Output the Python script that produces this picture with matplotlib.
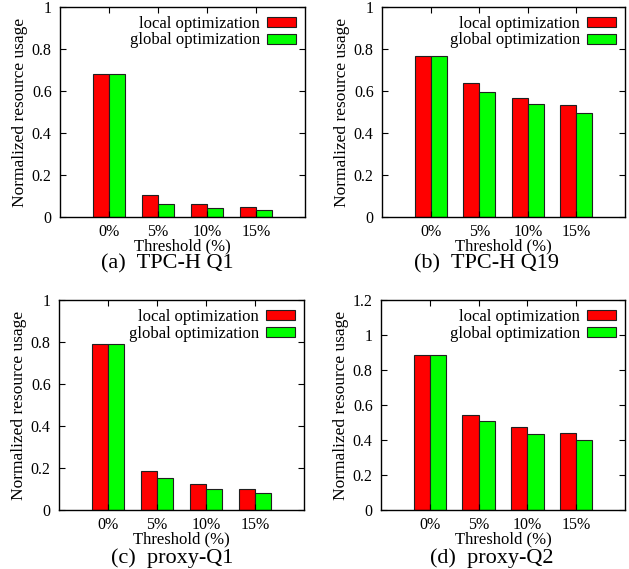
import numpy as np
import matplotlib.pyplot as plt

plt.rcParams['font.family'] = ['Liberation Serif', 'DejaVu Serif']

thresholds = ["0%", "5%", "10%", "15%"]

local_q1 = [0.68, 0.107, 0.062, 0.048]
global_q1 = [0.68, 0.062, 0.045, 0.032]

local_q19 = [0.765, 0.64, 0.565, 0.535]
global_q19 = [0.765, 0.593, 0.54, 0.495]

local_p1 = [0.79, 0.188, 0.122, 0.102]
global_p1 = [0.79, 0.154, 0.100, 0.083]

local_p2 = [0.885, 0.545, 0.472, 0.442]
global_p2 = [0.885, 0.511, 0.436, 0.399]

captions = ["(a)  TPC-H Q1", "(b)  TPC-H Q19", "(c)  proxy-Q1", "(d)  proxy-Q2"]

W, H = 629, 569


def box(left, right, top, bottom):
    return [left / W, (H - bottom) / H, (right - left) / W, (bottom - top) / H]


def draw_panel(fig, rect, local_vals, global_vals, ymax, yticks, ylabels):
    ax = fig.add_axes(rect)
    x = np.arange(len(thresholds))
    w = 0.33
    ax.bar(x - w / 2, local_vals, w, color="#ff0000", edgecolor="#202020",
           linewidth=0.8, label="local optimization")
    ax.bar(x + w / 2, global_vals, w, color="#00ff00", edgecolor="#202020",
           linewidth=0.8, label="global optimization")
    ax.set_xlim(-1, 4)
    ax.set_ylim(0, ymax)
    ax.set_yticks(yticks)
    ax.set_yticklabels(ylabels)
    ax.set_xticks(x)
    ax.set_xticklabels(thresholds)
    ax.tick_params(axis="y", direction="in", length=4, width=0.8,
                   left=True, right=True, labelsize=11.5, pad=6)
    ax.tick_params(axis="x", direction="in", length=4, width=0.8,
                   bottom=True, top=True, labelsize=11.5, pad=5)
    for s in ax.spines.values():
        s.set_linewidth(1.0)
    ax.set_xlabel("Threshold (%)", fontsize=12, labelpad=-1)
    ax.set_ylabel("Normalized resource usage", fontsize=12.5, labelpad=3)
    ax.legend(loc="upper right", frameon=False, markerfirst=False,
              fontsize=12, handlelength=1.75, handleheight=0.55,
              labelspacing=0.02, handletextpad=0.4, borderaxespad=0.15)
    return ax


fig = plt.figure(figsize=(6.29, 5.69), dpi=100)

ticks_1 = [0, 0.2, 0.4, 0.6, 0.8, 1]
labels_1 = ["0", "0.2", "0.4", "0.6", "0.8", "1"]
ticks_12 = [0, 0.2, 0.4, 0.6, 0.8, 1, 1.2]
labels_12 = ["0", "0.2", "0.4", "0.6", "0.8", "1", "1.2"]

draw_panel(fig, box(60, 305, 7, 217), local_q1, global_q1, 1, ticks_1, labels_1)
draw_panel(fig, box(382, 625, 7, 217), local_q19, global_q19, 1, ticks_1, labels_1)
draw_panel(fig, box(59, 304, 300, 510), local_p1, global_p1, 1, ticks_1, labels_1)
draw_panel(fig, box(381, 625, 300, 510), local_p2, global_p2, 1.2, ticks_12, labels_12)

cap_pos = [(167, 264), (487, 264), (172, 558), (492, 558)]
for (cx, cy), cap in zip(cap_pos, captions):
    fig.text(cx / W, (H - cy) / H, cap, ha="center", va="center", fontsize=16)

fig.savefig("out.png", dpi=100)
